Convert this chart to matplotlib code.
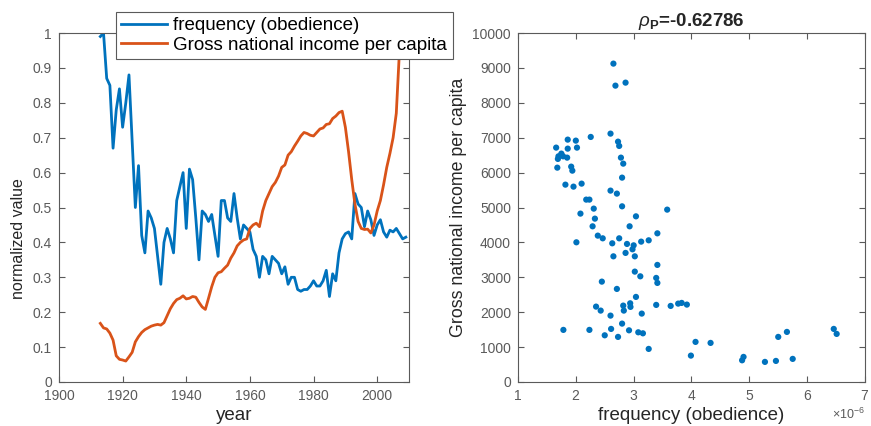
import numpy as np
import matplotlib
matplotlib.use('Agg')
import matplotlib.pyplot as plt
from matplotlib.ticker import FormatStrFormatter, ScalarFormatter

plt.rcParams['font.family'] = ['Liberation Sans', 'DejaVu Sans']
plt.rcParams['mathtext.fontset'] = 'custom'
plt.rcParams['mathtext.rm'] = 'Liberation Sans'
plt.rcParams['mathtext.it'] = 'Liberation Sans:italic'
plt.rcParams['mathtext.bf'] = 'Liberation Sans:bold'

# left panel: yearly normalized values
years_freq = list(range(1913, 2010))
freq_norm = [0.99, 1.00, 0.87, 0.85, 0.67, 0.78, 0.84, 0.73, 0.80, 0.88,
             0.69, 0.50, 0.62, 0.42, 0.37, 0.49, 0.47, 0.44, 0.36, 0.28,
             0.40, 0.44, 0.41, 0.37, 0.52, 0.56, 0.60, 0.44, 0.61, 0.58,
             0.47, 0.35, 0.49, 0.48, 0.46, 0.48, 0.42, 0.36, 0.52, 0.52,
             0.47, 0.46, 0.54, 0.47, 0.41, 0.45, 0.44, 0.43, 0.38, 0.36,
             0.30, 0.36, 0.35, 0.31, 0.36, 0.35, 0.34, 0.31, 0.33, 0.28,
             0.30, 0.30, 0.265, 0.26, 0.265, 0.265, 0.275, 0.29, 0.275, 0.275,
             0.29, 0.32, 0.245, 0.31, 0.29, 0.37, 0.41, 0.425, 0.43, 0.41,
             0.54, 0.51, 0.50, 0.445, 0.49, 0.465, 0.42, 0.45, 0.465, 0.43,
             0.415, 0.435, 0.43, 0.44, 0.425, 0.41, 0.415]

years_gni = list(range(1913, 2009))
gni_norm = [0.168, 0.155, 0.152, 0.14, 0.12, 0.075, 0.065, 0.063, 0.060, 0.072,
            0.085, 0.115, 0.13, 0.142, 0.150, 0.155, 0.160, 0.163, 0.165, 0.163,
            0.170, 0.19, 0.21, 0.225, 0.236, 0.24, 0.247, 0.238, 0.24, 0.245,
            0.243, 0.228, 0.215, 0.208, 0.24, 0.273, 0.30, 0.313, 0.316, 0.326,
            0.335, 0.355, 0.37, 0.39, 0.40, 0.407, 0.41, 0.44, 0.45, 0.455,
            0.445, 0.49, 0.52, 0.54, 0.56, 0.572, 0.59, 0.615, 0.622, 0.65,
            0.66, 0.676, 0.69, 0.705, 0.715, 0.712, 0.707, 0.705, 0.715, 0.725,
            0.728, 0.738, 0.74, 0.755, 0.762, 0.772, 0.776, 0.73, 0.66, 0.58,
            0.51, 0.46, 0.44, 0.437, 0.438, 0.427, 0.45, 0.49, 0.52, 0.565,
            0.615, 0.655, 0.70, 0.77, 0.95, 1.00]

# right panel: frequency (x1e-6) vs GNI per capita
freq_x = [2.65, 2.685, 2.86, 2.258, 2.60, 1.86, 2.0, 1.66, 1.86, 2.02,
          2.73, 2.75, 1.75, 1.70, 1.78, 1.69, 1.85, 1.68, 1.92, 1.94,
          2.78, 2.82, 2.80, 1.82, 1.96, 2.10, 2.60, 2.71, 2.18, 2.235,
          2.31, 2.80, 3.58, 2.08, 2.33, 3.04,
          2.29, 2.38, 2.465, 2.75, 2.93, 3.41, 2.01, 2.63, 2.885, 3.00,
          2.98, 3.13, 3.26, 2.65, 2.86, 3.02, 3.41, 3.02, 3.115, 3.39,
          3.41, 2.45, 2.71, 3.04, 2.35, 2.43, 2.82, 2.83, 2.94, 2.945,
          2.60, 3.14, 3.39, 3.64, 3.77, 3.83, 3.92, 1.785, 2.235, 2.50,
          2.61, 2.73, 2.80, 2.92, 3.08, 3.16, 3.26, 4.07, 4.33, 3.99,
          4.875, 4.90, 5.27, 5.46, 5.50, 5.65, 5.75, 6.46, 6.51]
gni_y = [9123, 8492, 8578, 7022, 7117, 6945, 6916, 6716, 6687, 6716,
         6887, 6764, 6544, 6467, 6467, 6392, 6429, 6142, 6171, 6056,
         6429, 6257, 5856, 5655, 5598, 5684, 5484, 5398, 5226, 5226,
         4968, 5034, 4939, 4825, 4681, 4747,
         4461, 4194, 4117, 4117, 4461, 4260, 4003, 3974, 3956, 3916,
         3802, 4022, 4060, 3601, 3699, 3601, 3355, 3163, 3028, 2982,
         2839, 2876, 2667, 2438, 2160, 2046, 2189, 2046, 2255, 2152,
         1902, 1960, 2209, 2180, 2246, 2266, 2218, 1493, 1493, 1338,
         1521, 1292, 1673, 1481, 1424, 1395, 948, 1149, 1120, 756,
         622, 719, 576, 604, 1292, 1435, 662, 1521, 1378]
rho_p = -0.62786

blue = '#0072BD'
orange = '#D95319'
tick_col = '#5a5a5a'
label_col = '#262626'

fig = plt.figure(figsize=(8.71, 4.26), dpi=100)
ax1 = fig.add_axes([0.0677, 0.1033, 0.4019, 0.8192])
ax2 = fig.add_axes([0.5947, 0.1033, 0.3984, 0.8192])

l1, = ax1.plot(years_freq, freq_norm, color=blue, lw=2.0)
l2, = ax1.plot(years_gni, gni_norm, color=orange, lw=2.0)
ax1.set_xlim(1900, 2010)
ax1.set_ylim(0, 1)
ax1.set_xticks(np.arange(1900, 2001, 20))
ax1.set_yticks(np.arange(0, 1.01, 0.1))
ax1.yaxis.set_major_formatter(FormatStrFormatter('%g'))
ax1.set_xlabel('year', fontsize=13.5, color=label_col, labelpad=3)
ax1.set_ylabel('normalized value', fontsize=11.5, color=label_col)
ax1.yaxis.set_label_coords(-0.095, 0.41)

ax2.scatter(np.array(freq_x) * 1e-6, gni_y, s=20, color=blue, edgecolors='none')
ax2.set_xlim(1e-6, 7e-6)
ax2.set_ylim(0, 10000)
ax2.set_xticks(np.arange(1, 8) * 1e-6)
ax2.set_yticks(np.arange(0, 10001, 1000))
fmt = ScalarFormatter(useMathText=True)
fmt.set_powerlimits((0, 0))
ax2.xaxis.set_major_formatter(fmt)
ax2.xaxis.get_offset_text().set_fontsize(9)
ax2.xaxis.get_offset_text().set_color(tick_col)
ax2.set_xlabel('frequency (obedience)', fontsize=13.5, color=label_col, labelpad=3)
ax2.set_ylabel('Gross national income per capita', fontsize=12.75, color=label_col, labelpad=4)
ax2.set_title(r'$\rho_{\mathbf{P}}$=%.5f' % rho_p, fontsize=13.5, fontweight='bold',
              color=label_col, pad=5)

for ax in (ax1, ax2):
    ax.tick_params(direction='in', top=True, right=True, length=4, width=0.8,
                   labelsize=10, colors=tick_col, pad=5)
    for s in ax.spines.values():
        s.set_color(tick_col)
        s.set_linewidth(0.8)

leg = fig.legend([l1, l2], ['frequency (obedience)', 'Gross national income per capita'],
                 loc='upper left', bbox_to_anchor=(0.133, 0.9725), fontsize=13.5,
                 frameon=True, fancybox=False, edgecolor=tick_col, framealpha=1,
                 handlelength=2.45, handletextpad=0.3, borderpad=0.3,
                 labelspacing=0.12, borderaxespad=0)
leg.get_frame().set_linewidth(0.8)

fig.savefig('out.png', dpi=100)
